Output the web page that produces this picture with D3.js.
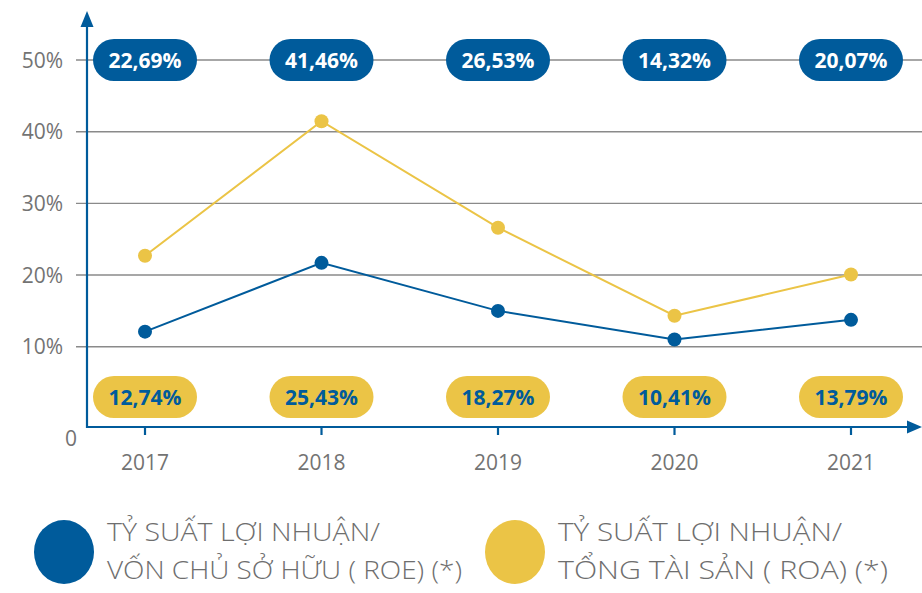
<!DOCTYPE html>
<html>
<head>
<meta charset="utf-8">
<script src="https://cdn.jsdelivr.net/npm/d3@7"></script>
<style>
  body { margin: 0; background: #fff; }
  svg { display: block; font-family: "Open Sans", "DejaVu Sans", sans-serif; }
</style>
</head>
<body>
<script>
// Data
const years = ["2017", "2018", "2019", "2020", "2021"];
const roeLine = [22.69, 41.46, 26.6, 14.32, 20.07];   // yellow line
const roaLine = [12.1, 21.7, 15.0, 11.0, 13.75];      // blue line
const topLabels = ["22,69%", "41,46%", "26,53%", "14,32%", "20,07%"];
const bottomLabels = ["12,74%", "25,43%", "18,27%", "10,41%", "13,79%"];
const yTicks = [10, 20, 30, 40, 50];
const legendLabels = [
    ["TỶ SUẤT LỢI NHUẬN/", "VỐN CHỦ SỞ HỮU ( ROE) (*)"],
    ["TỶ SUẤT LỢI NHUẬN/", "TỔNG TÀI SẢN ( ROA) (*)"]
];

const colors = { blue: "#005b9b", yellow: "#ebc446" };
const legendColors = [colors.blue, colors.yellow];
// measured widths of the legend lines
const legendWidths = [[273, 355], [284, 330]];

// Dimensions
const width = 922;
const height = 593;
const axisX = 87;
const axisY = 427;

const svg = d3.select("body")
    .append("svg")
    .attr("width", width)
    .attr("height", height);

const x = d3.scalePoint()
    .domain(years)
    .range([145, 851]);

const y = d3.scaleLinear()
    .domain([0, 50])
    .range([418.4, 60]);

// Gridlines
svg.append("g")
    .selectAll("line")
    .data(yTicks)
    .join("line")
    .attr("x1", 76)
    .attr("x2", width)
    .attr("y1", d => y(d))
    .attr("y2", d => y(d))
    .attr("stroke", "#8a8a8a")
    .attr("stroke-width", 1.4);

// Y tick labels
svg.append("g")
    .selectAll("text")
    .data(yTicks)
    .join("text")
    .attr("x", 63)
    .attr("y", d => y(d))
    .attr("dy", "0.36em")
    .attr("text-anchor", "end")
    .attr("fill", "#737373")
    .attr("font-size", 21)
    .text(d => d + "%");

svg.append("text")
    .attr("x", 77)
    .attr("y", axisY + 11)
    .attr("dy", "0.36em")
    .attr("text-anchor", "end")
    .attr("fill", "#737373")
    .attr("font-size", 21)
    .text("0");

// Axes with arrows
svg.append("line")
    .attr("x1", axisX).attr("x2", axisX)
    .attr("y1", axisY + 1).attr("y2", 24)
    .attr("stroke", colors.blue)
    .attr("stroke-width", 2.2);
svg.append("path")
    .attr("d", `M${axisX - 6.5},27 L${axisX},11 L${axisX + 6.5},27 Z`)
    .attr("fill", colors.blue);

svg.append("line")
    .attr("x1", axisX - 1).attr("x2", 910)
    .attr("y1", axisY).attr("y2", axisY)
    .attr("stroke", colors.blue)
    .attr("stroke-width", 2.2);
svg.append("path")
    .attr("d", `M907,${axisY - 6.5} L922,${axisY} L907,${axisY + 6.5} Z`)
    .attr("fill", colors.blue);

// X ticks and labels
const xg = svg.append("g")
    .selectAll("g")
    .data(years)
    .join("g")
    .attr("transform", d => `translate(${x(d)},0)`);
xg.append("line")
    .attr("y1", axisY).attr("y2", axisY + 8)
    .attr("stroke", colors.blue)
    .attr("stroke-width", 2.2);
xg.append("text")
    .attr("y", 462)
    .attr("dy", "0.36em")
    .attr("text-anchor", "middle")
    .attr("fill", "#737373")
    .attr("font-size", 21)
    .text(d => d);

// Lines
const line = d3.line()
    .x((d, i) => x(years[i]))
    .y(d => y(d));

function drawSeries(values, color) {
    svg.append("path")
        .datum(values)
        .attr("fill", "none")
        .attr("stroke", color)
        .attr("stroke-width", 2)
        .attr("d", line);
    svg.append("g")
        .selectAll("circle")
        .data(values)
        .join("circle")
        .attr("cx", (d, i) => x(years[i]))
        .attr("cy", d => y(d))
        .attr("r", 7)
        .attr("fill", color);
}
drawSeries(roeLine, colors.yellow);
drawSeries(roaLine, colors.blue);

// Pill labels
function drawPills(labels, cy, fill, textColor) {
    const g = svg.append("g")
        .selectAll("g")
        .data(labels)
        .join("g")
        .attr("transform", (d, i) => `translate(${x(years[i])},${cy})`);
    g.append("rect")
        .attr("x", -52).attr("y", -21)
        .attr("width", 104).attr("height", 42)
        .attr("rx", 21)
        .attr("fill", fill);
    g.append("text")
        .attr("text-anchor", "middle")
        .attr("dy", "0.36em")
        .attr("fill", textColor)
        .attr("font-size", 21)
        .attr("font-weight", 700)
        .text(d => d);
}
drawPills(topLabels, y(50), colors.blue, "#ffffff");
drawPills(bottomLabels, axisY - 30, colors.yellow, colors.blue);

// Legend
const legend = svg.append("g")
    .selectAll("g")
    .data(legendLabels)
    .join("g")
    .attr("transform", (d, i) => `translate(${64 + i * 451},552)`);
legend.append("ellipse")
    .attr("rx", 30).attr("ry", 32)
    .attr("fill", (d, i) => legendColors[i]);
legend.each(function(lines, k) {
    d3.select(this).selectAll("text")
        .data(lines)
        .join("text")
        .attr("x", 43)
        .attr("y", (d, i) => i === 0 ? -11 : 27)
        .attr("fill", "#6e6e6e")
        .attr("font-size", 26)
        .attr("font-weight", 300)
        .attr("textLength", (d, i) => legendWidths[k][i])
        .attr("lengthAdjust", "spacingAndGlyphs")
        .text(d => d);
});
</script>
</body>
</html>
